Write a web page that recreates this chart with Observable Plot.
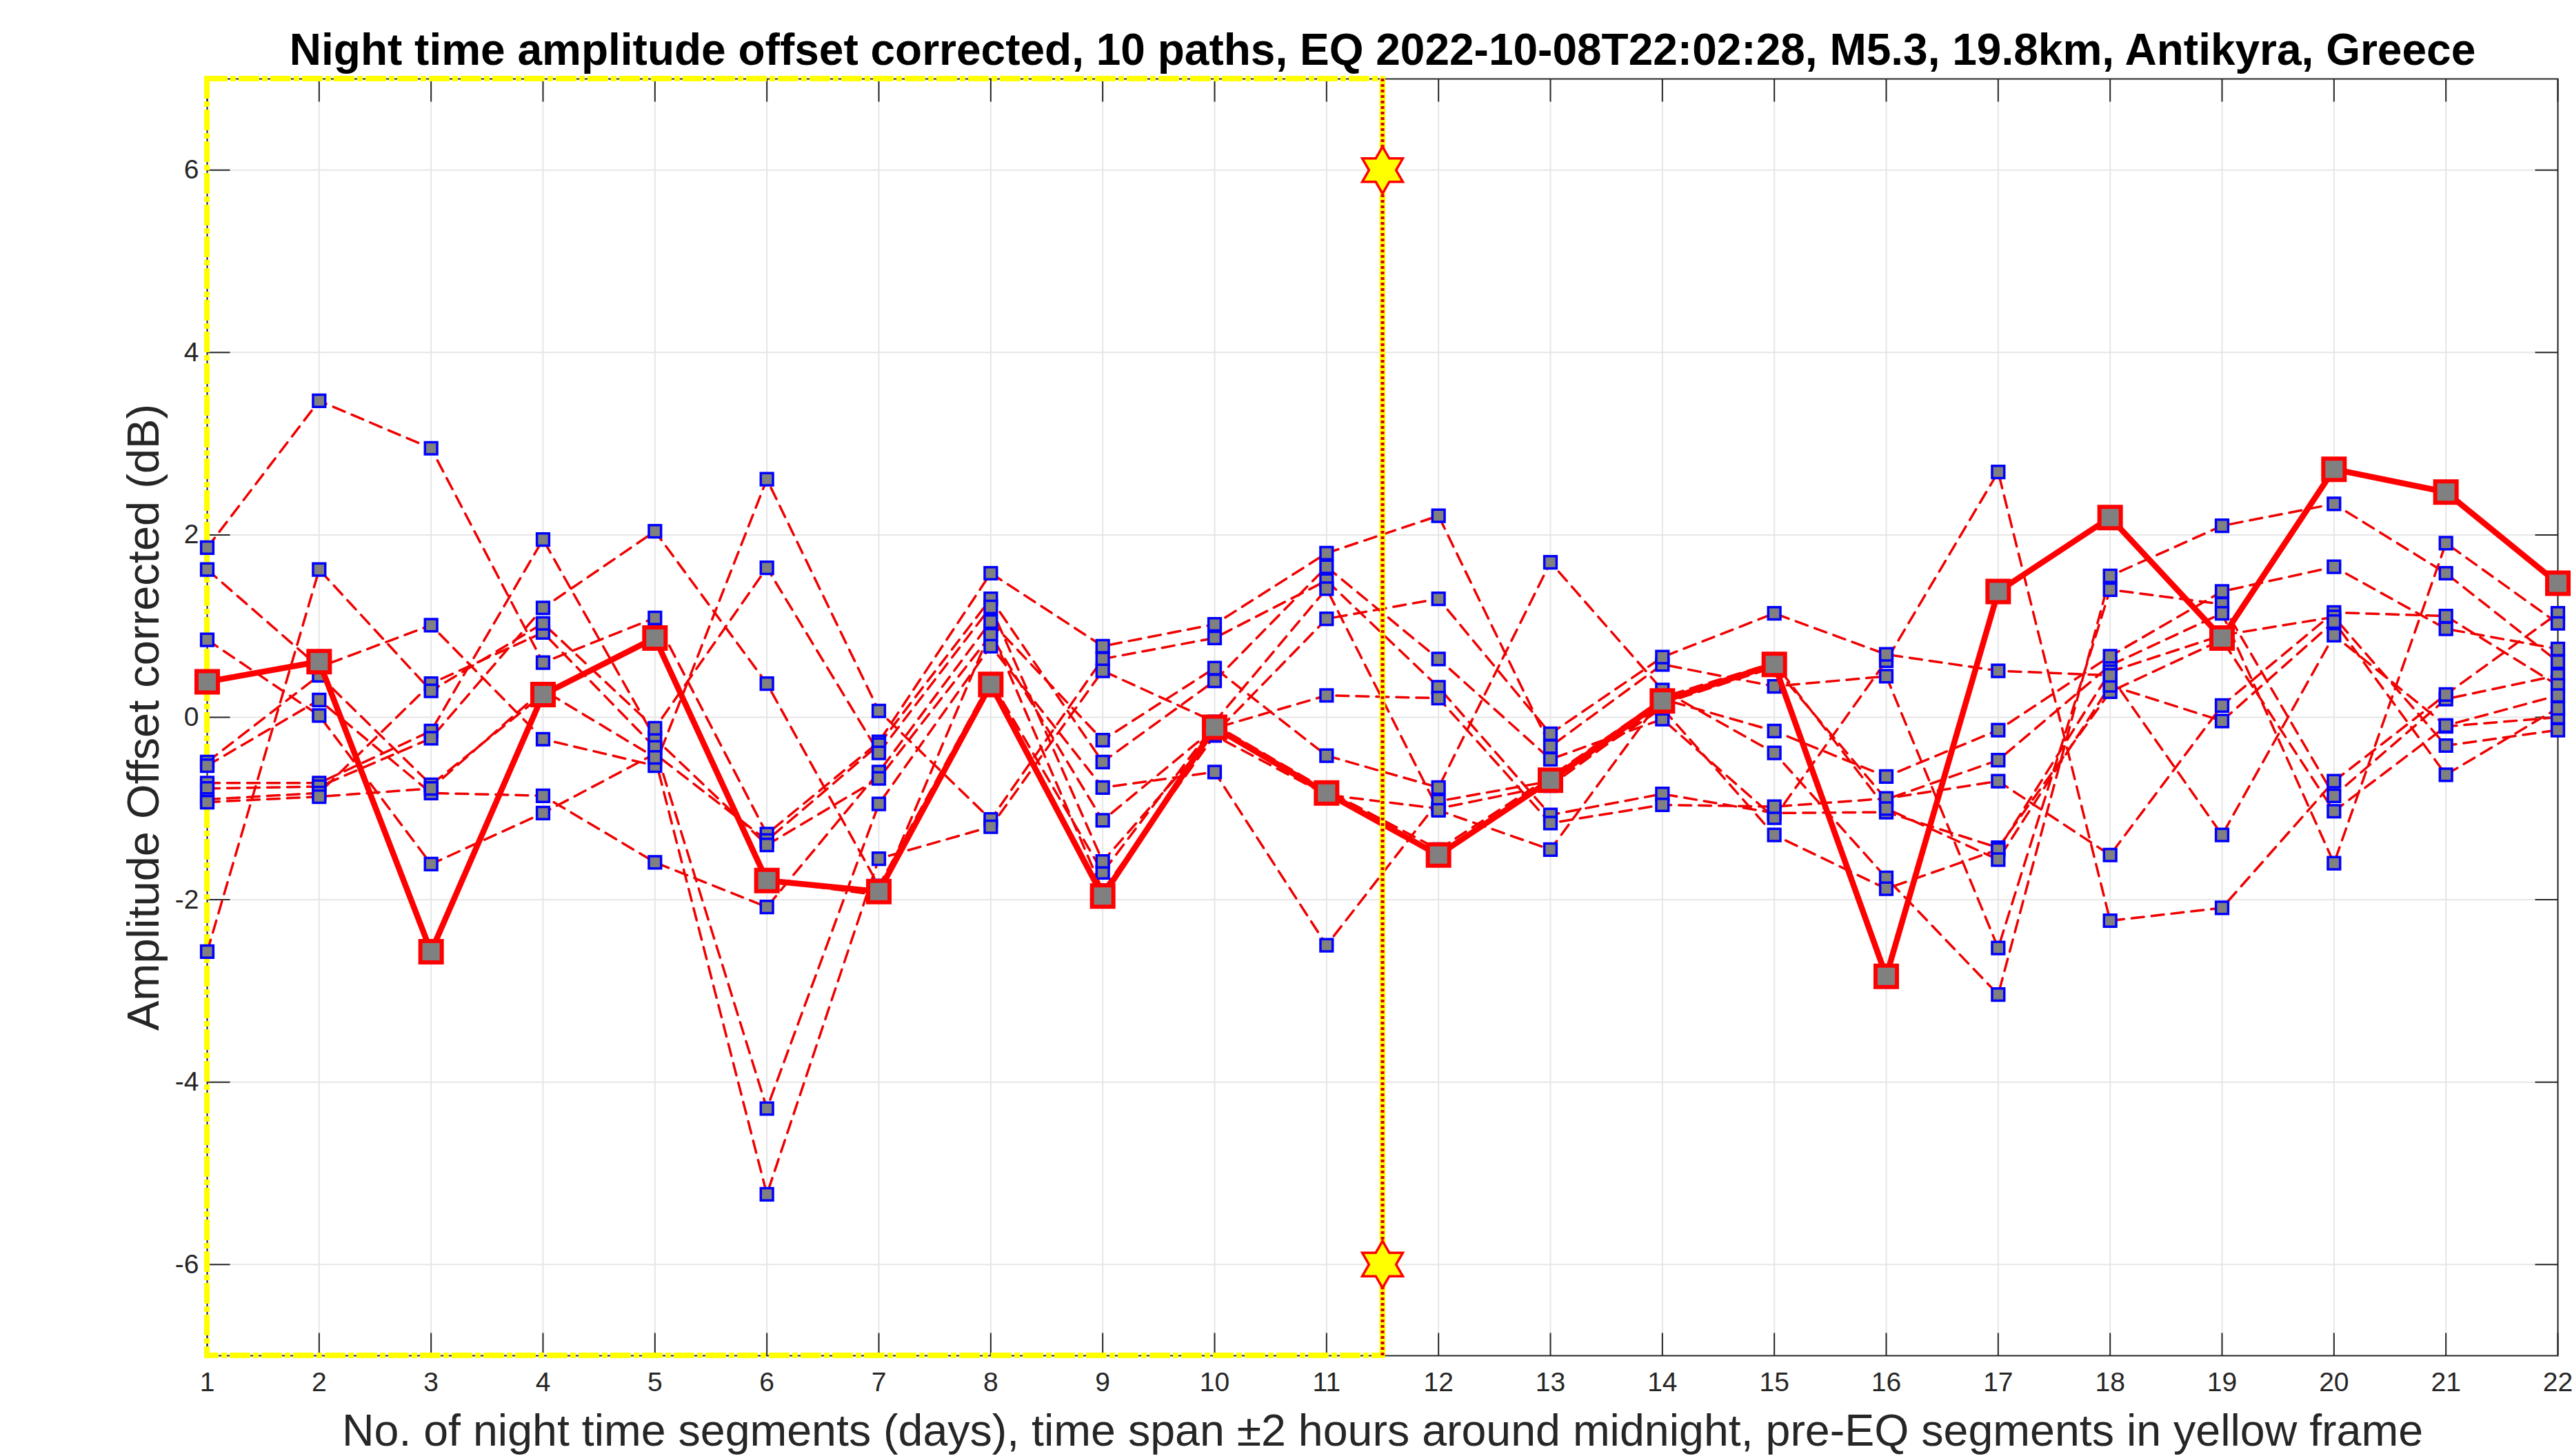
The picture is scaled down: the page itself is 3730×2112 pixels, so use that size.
<!DOCTYPE html>
<html>
<head>
<meta charset="utf-8">
<script src="https://cdn.jsdelivr.net/npm/d3@7"></script>
<script src="https://cdn.jsdelivr.net/npm/@observablehq/plot@0.6"></script>
<style>
html, body { margin: 0; padding: 0; background: #ffffff; }
#chart svg { display: block; }
</style>
</head>
<body>
<div id="chart"></div>
<script>
// ---------- data ----------
const days = [1,2,3,4,5,6,7,8,9,10,11,12,13,14,15,16,17,18,19,20,21,22];

const path01 = [1.86, 3.47, 2.95, 0.60, 1.09, -1.28, -0.27, 1.58, 0.78, 1.02, 1.80, 2.21, -0.32, 0.58, 0.34, 0.45, -2.53, 1.40, 1.24, -0.86, 0.20, 0.46];
const path02 = [1.62, 0.55, 1.01, -0.24, -0.53, 2.61, 0.07, -1.12, 0.64, 0.87, 1.50, 0.33, -1.07, -0.84, -1.05, -1.04, -1.43, 0.28, 0.85, -1.03, -0.10, 0.00];
const path03 = [0.85, 0.02, -1.61, -1.05, -0.40, -1.35, -0.30, 1.30, -0.49, 0.40, 1.65, 0.64, -0.46, -0.02, -1.10, 0.62, 2.69, -2.23, -2.09, -0.70, 0.25, 1.14];
const path04 = [-0.49, 0.46, -0.74, 0.25, 0.87, -1.79, -1.95, 0.95, -1.90, -0.20, -0.85, -1.00, -0.75, 0.15, 0.55, -0.90, -0.47, 0.57, 1.14, -1.60, 1.91, 1.03];
const path05 = [-0.53, 0.19, -0.83, -0.86, -1.59, -2.08, -0.60, 1.05, -0.25, 0.54, -0.42, -0.77, 1.70, 0.30, -0.39, -1.76, -3.04, 1.55, 2.10, 2.34, 1.58, 0.61];
const path06 = [-0.72, -0.72, -0.15, 1.95, -0.23, -1.40, -0.67, 0.90, -1.13, -0.12, 0.24, 0.21, -1.16, -0.96, -0.98, -0.89, -0.70, -1.51, 0.13, 1.15, 1.11, 0.35];
const path07 = [-0.78, -0.76, -0.23, 1.20, 2.04, 0.37, -1.85, 0.40, -1.70, -0.08, -0.80, -1.45, -0.65, 0.20, -0.15, -0.65, -0.14, 0.67, 1.38, 1.65, 0.97, 0.75];
const path08 = [-0.90, -0.83, 0.37, 0.93, -0.33, -4.29, -0.95, 0.78, -0.77, -0.60, -2.50, -0.92, -0.70, 0.10, -1.29, -1.88, -1.45, 0.50, 0.90, 1.10, -0.31, -0.14];
const path09 = [-0.93, -0.87, -0.78, 0.30, -0.44, -5.23, -1.55, -1.20, 0.51, -0.05, 1.41, -1.02, -1.45, 0.22, 0.60, -1.00, -1.56, 0.35, -0.04, 1.05, -0.63, 0.10];
const path10 = [-2.57, 1.62, 0.29, 1.03, -0.12, 1.64, -0.39, 1.21, -1.58, -0.18, 1.08, 1.30, -0.18, 0.66, 1.14, 0.69, 0.51, 0.46, -1.29, 0.90, -0.09, 0.24];

// thick combined curve of the 10 paths
const combined = [0.39, 0.61, -2.57, 0.25, 0.87, -1.79, -1.91, 0.36, -1.96, -0.11, -0.83, -1.51, -0.69, 0.18, 0.58, -2.84, 1.38, 2.19, 0.87, 2.72, 2.47, 1.47];

const yTicks = [-6, -4, -2, 0, 2, 4, 6];
const xDomain = [1, 22];
const yDomain = [-7, 7];
const eqPosition = 11.5;          // EQ occurs between segment 11 and 12
const eqStarValues = [6, -6];

const titleText = "Night time amplitude offset corrected, 10 paths, EQ 2022-10-08T22:02:28, M5.3, 19.8km, Antikyra, Greece";
const xLabel = "No. of night time segments (days), time span \u00B12 hours around midnight, pre-EQ segments in yellow frame";
const yLabel = "Amplitude Offset corrected (dB)";

// ---------- tables built from the arrays ----------
const paths = [path01, path02, path03, path04, path05, path06, path07, path08, path09, path10];
const pathRows = paths.flatMap((vals, i) => vals.map((v, k) => ({path: i, day: days[k], value: v})));
const combinedRows = combined.map((v, k) => ({day: days[k], value: v}));
const frameBox = [{x1: xDomain[0], x2: eqPosition, y1: yDomain[0], y2: yDomain[1]}];

// ---------- custom symbols ----------
const tickSymbol = (dx, dy) => ({
  draw(ctx, size) {
    const L = Math.sqrt(size / Math.PI);
    ctx.moveTo(0, 0);
    ctx.lineTo(dx * L, dy * L);
  }
});
const hexagram = {
  draw(ctx, size) {
    const R = Math.sqrt(size / Math.PI);
    const r = R / Math.sqrt(3);
    for (let i = 0; i < 12; i++) {
      const a = -Math.PI / 2 + i * Math.PI / 6;
      const rr = i % 2 === 0 ? R : r;
      const px = rr * Math.cos(a), py = rr * Math.sin(a);
      if (i === 0) ctx.moveTo(px, py); else ctx.lineTo(px, py);
    }
    ctx.closePath();
  }
};

const FONT = "Liberation Sans, Arial, Helvetica, sans-serif";
const AXIS_COLOR = "#262626";

const chart = Plot.plot({
  width: 3730,
  height: 2112,
  marginLeft: 300,
  marginRight: 21,
  marginTop: 114,
  marginBottom: 146,
  style: {background: "#ffffff", fontFamily: FONT},
  x: {domain: xDomain, axis: null},
  y: {domain: yDomain, axis: null},
  marks: [
    // grid
    Plot.ruleX(days, {x: d => d, stroke: "#e6e6e6", strokeWidth: 2}),
    Plot.ruleY(yTicks, {y: d => d, stroke: "#e6e6e6", strokeWidth: 2}),
    // axes box
    Plot.frame({stroke: AXIS_COLOR, strokeWidth: 2}),
    // inward ticks
    Plot.dot(yTicks, {x: () => xDomain[0], y: d => d, symbol: tickSymbol(1, 0), r: 33, stroke: AXIS_COLOR, strokeWidth: 2, fill: "none"}),
    Plot.dot(yTicks, {x: () => xDomain[1], y: d => d, symbol: tickSymbol(-1, 0), r: 33, stroke: AXIS_COLOR, strokeWidth: 2, fill: "none"}),
    Plot.dot(days, {x: d => d, y: () => yDomain[1], symbol: tickSymbol(0, 1), r: 33, stroke: AXIS_COLOR, strokeWidth: 2, fill: "none"}),
    Plot.dot(days, {x: d => d, y: () => yDomain[0], symbol: tickSymbol(0, -1), r: 33, stroke: AXIS_COLOR, strokeWidth: 2, fill: "none"}),
    // yellow pre-EQ frame
    Plot.rect(frameBox, {x1: "x1", x2: "x2", y1: "y1", y2: "y2", fill: "none", stroke: "#ffff00", strokeWidth: 8, strokeDasharray: "30,4,8,4"}),
    // individual paths
    Plot.line(pathRows, {x: "day", y: "value", z: "path", stroke: "#f00000", strokeWidth: 3.5, strokeDasharray: "18,11"}),
    Plot.dot(pathRows, {x: "day", y: "value", symbol: "square", r: 10, fill: "#808080", stroke: "#0000ff", strokeWidth: 3.5}),
    // combined curve
    Plot.line(combinedRows, {x: "day", y: "value", stroke: "#ff0000", strokeWidth: 8.5}),
    Plot.dot(combinedRows, {x: "day", y: "value", symbol: "square", r: 17.5, fill: "#808080", stroke: "#ff0000", strokeWidth: 6}),
    // EQ line and stars
    Plot.ruleX([eqPosition], {x: d => d, stroke: "#ffff00", strokeWidth: 8}),
    Plot.ruleX([eqPosition], {x: d => d, stroke: "#d40000", strokeWidth: 5, strokeDasharray: "4,4"}),
    Plot.dot(eqStarValues, {x: () => eqPosition, y: d => d, symbol: hexagram, r: 34, fill: "#ffff00", stroke: "#ff0000", strokeWidth: 3.5}),
    // tick labels
    Plot.text(days, {x: d => d, frameAnchor: "bottom", dy: 51, text: d => String(d), fontSize: 39, fill: AXIS_COLOR, fontFamily: FONT}),
    Plot.text(yTicks, {y: d => d, frameAnchor: "left", dx: -12, textAnchor: "end", text: d => String(d), fontSize: 39, fill: AXIS_COLOR, fontFamily: FONT}),
    // axis titles and title
    Plot.text([xLabel], {frameAnchor: "bottom", dy: 130, textAnchor: "middle", text: d => d, fontSize: 64.5, fill: AXIS_COLOR, fontFamily: FONT}),
    Plot.text([yLabel], {frameAnchor: "left", dx: -91, rotate: -90, textAnchor: "middle", text: d => d, fontSize: 65, fill: AXIS_COLOR, fontFamily: FONT}),
    Plot.text([titleText], {frameAnchor: "top", dy: -66, textAnchor: "middle", text: d => d, fontSize: 64, fontWeight: "bold", fill: "#000000", fontFamily: FONT})
  ]
});

document.getElementById("chart").appendChild(chart);
</script>
</body>
</html>
